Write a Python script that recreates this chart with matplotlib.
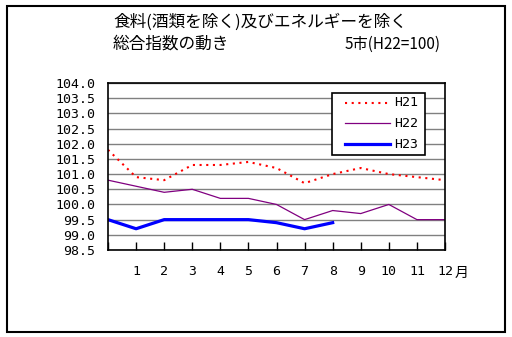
import matplotlib
matplotlib.use("Agg")
import matplotlib.pyplot as plt
from matplotlib.patches import Rectangle
from matplotlib.lines import Line2D

plt.rcParams['font.family'] = ['Noto Sans CJK JP', 'DejaVu Sans']

positions = list(range(13))
month_labels = ["", "1", "2", "3", "4", "5", "6", "7", "8", "9", "10", "11", "12"]
h21 = [101.8, 100.9, 100.8, 101.3, 101.3, 101.4, 101.2, 100.7, 101.0, 101.2, 101.0, 100.9, 100.8]
h22 = [100.8, 100.6, 100.4, 100.5, 100.2, 100.2, 100.0, 99.5, 99.8, 99.7, 100.0, 99.5, 99.5]
h23 = [99.5, 99.2, 99.5, 99.5, 99.5, 99.5, 99.4, 99.2, 99.4]
series_names = ["H21", "H22", "H23"]
yticks = [98.5, 99.0, 99.5, 100.0, 100.5, 101.0, 101.5, 102.0, 102.5, 103.0, 103.5, 104.0]

W, H = 512, 337
MONO = "DejaVu Sans Mono"
fig = plt.figure(figsize=(W / 100, H / 100), dpi=100)
fig.patch.set_facecolor("white")


def fx(px):
    return px / W


def fy(py):
    return 1 - py / H


# outer border
fig.add_artist(Rectangle((fx(6.5), fy(332)), (505 - 6.5) / W, (332 - 6) / H,
                         transform=fig.transFigure, fill=False, edgecolor="black", lw=1.5))

ax = fig.add_axes([fx(108), fy(250), (445 - 108) / W, (250 - 83) / H])
styles = [dict(color="#ff0000", lw=1.5, linestyle=(0, (1, 2.2))),
          dict(color="#800080", lw=0.9, linestyle="-"),
          dict(color="#0000ff", lw=2.3, linestyle="-")]
ax.plot(positions, h21, **styles[0])
ax.plot(positions, h22, **styles[1])
ax.plot(positions[:len(h23)], h23, **styles[2])

ax.set_xlim(0, 12)
ax.set_ylim(98.5, 104.0)
ax.set_yticks(yticks)
ax.set_yticklabels([f"{v:.1f}" for v in yticks], fontsize=9.5, family=MONO)
ax.set_xticks(positions)
ax.set_xticklabels(month_labels, fontsize=9.5, family=MONO)
ax.tick_params(axis="x", direction="in", length=6, width=1, pad=11, color="black")
ax.tick_params(axis="y", length=0, pad=9)
ax.grid(axis="y", color="#808080", lw=1)
ax.set_axisbelow(True)
for s in ax.spines.values():
    s.set_linewidth(1.2)
    s.set_color("black")

fig.text(fx(455), fy(273), "月", fontsize=10, va="center", ha="left")

# legend (manual, to match the reference box)
fig.add_artist(Rectangle((fx(332), fy(155)), (425 - 332) / W, (155 - 92.7) / H,
                         transform=fig.transFigure, facecolor="white", edgecolor="black", lw=1.2))
for name, st, ry in zip(series_names, styles, [103, 123, 144]):
    fig.add_artist(Line2D([fx(345), fx(390)], [fy(ry), fy(ry)], transform=fig.transFigure, **st))
    fig.text(fx(394), fy(ry), name, fontsize=9.5, family=MONO, va="center", ha="left")

fig.text(fx(113), fy(22), "食料(酒類を除く)及びエネルギーを除く", fontsize=12, va="center", ha="left")
fig.text(fx(113), fy(44), "総合指数の動き", fontsize=12, va="center", ha="left")
fig.text(fx(345), fy(44), "5市(H22=100)", fontsize=11, va="center", ha="left")

fig.savefig("out.png", dpi=100)
